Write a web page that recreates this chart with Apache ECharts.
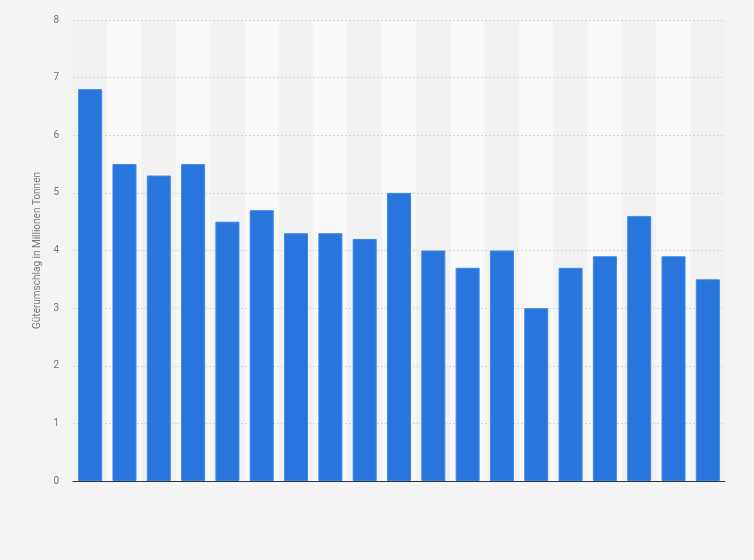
<!DOCTYPE html>
<html>
	<head>
		<meta charset="utf-8" />
		<title></title>
		<script type="text/javascript" src="https://cdn.jsdelivr.net/npm/echarts@6/dist/echarts.min.js"></script>
		<style>
			html, body { margin: 0; padding: 0; background: #f4f4f4; }
		</style>
	</head>
	<body>
		<div id="main" style="width:754px; height:560px;"></div>
		<script>
			// Jahre (keine Beschriftung im Original sichtbar)
			var categories = ['2004', '2005', '2006', '2007', '2008', '2009', '2010', '2011', '2012', '2013',
				'2014', '2015', '2016', '2017', '2018', '2019', '2020', '2021', '2022'];
			// Güterumschlag in Mio. t
			var values = [6.8, 5.5, 5.3, 5.5, 4.5, 4.7, 4.3, 4.3, 4.2, 5.0,
				4.0, 3.7, 4.0, 3.0, 3.7, 3.9, 4.6, 3.9, 3.5];
			var yTicks = [0, 8, 1];

			var myChart = echarts.init(document.getElementById('main'));
			var opt = {
				backgroundColor: '#f4f4f4',
				animation: false,
				grid: { left: 73, right: 29, top: 20, bottom: 79 },
				xAxis: {
					type: 'category',
					data: categories,
					z: 0,
					axisLine: { lineStyle: { color: '#333', width: 1 } },
					axisTick: { show: false },
					axisLabel: { show: false, interval: 0 },
					splitArea: { show: true, interval: 0, areaStyle: { color: ['#f2f2f2', '#f8f8f8'] } }
				},
				yAxis: {
					type: 'value',
					z: 1,
					min: yTicks[0],
					max: yTicks[1],
					interval: yTicks[2],
					name: 'Güterumschlag in Millionen Tonnen',
					nameLocation: 'middle',
					nameGap: 28,
					nameTextStyle: { color: '#777', fontSize: 10, fontFamily: 'Roboto' },
					axisLine: { show: false },
					axisTick: { show: false },
					axisLabel: { color: '#777', fontSize: 10, fontFamily: 'Roboto', margin: 14 },
					splitLine: { showMinLine: false, lineStyle: { color: '#d6d6d6', type: [2, 2] } }
				},
				series: [{
					type: 'bar',
					data: values,
					barWidth: 24,
					itemStyle: { color: '#2876dd', borderColor: '#3f86e3', borderWidth: 1 }
				}]
			};
			myChart.setOption(opt);
		</script>
	</body>
</html>
